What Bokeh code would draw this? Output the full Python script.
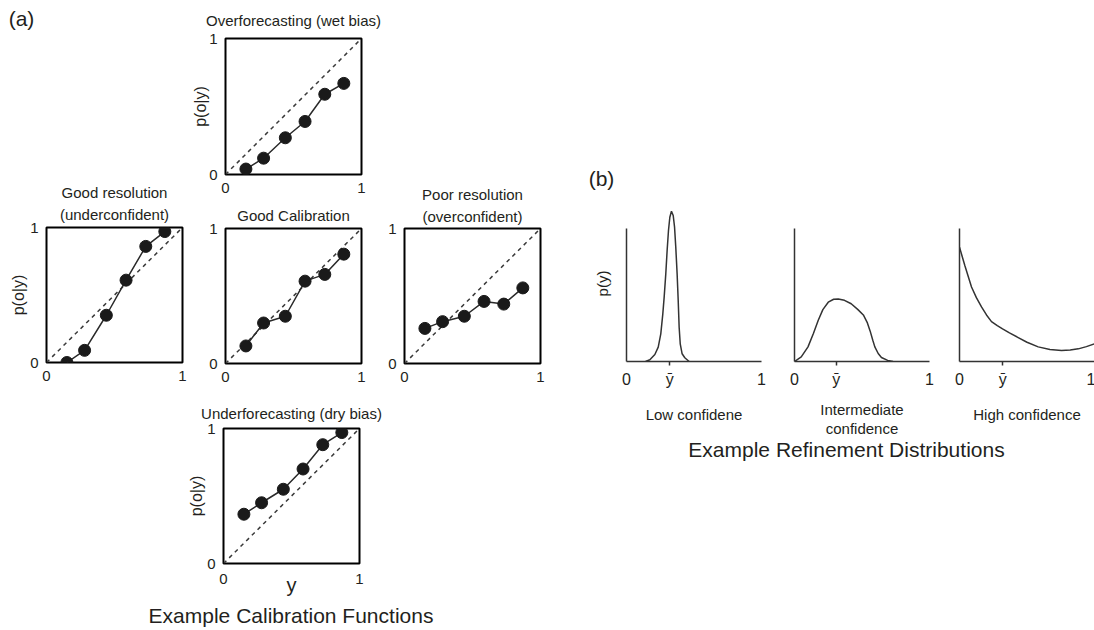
from bokeh.plotting import figure
from bokeh.layouts import row, column
from bokeh.models import Range1d, FixedTicker, Label, LinearAxis, Title
from bokeh.embed import file_html
from bokeh.resources import INLINE

FONT = "Liberation Sans"
INK = "#231f20"

# ---- (a) calibration functions: forecast bins and observed frequencies ----
y_bins = [0.15, 0.28, 0.44, 0.585, 0.73, 0.87]
over_obs = [0.04, 0.12, 0.27, 0.39, 0.59, 0.67]
goodres_obs = [0.0, 0.09, 0.35, 0.61, 0.86, 0.97]
goodcal_obs = [0.13, 0.30, 0.35, 0.61, 0.66, 0.81]
poor_obs = [0.26, 0.31, 0.35, 0.46, 0.44, 0.56]
under_obs = [0.365, 0.45, 0.55, 0.70, 0.88, 0.97]
diag = [0, 1]
unit_ticks = [0, 1]

# ---- (b) refinement distributions p(y) ----
low_y = [0.141, 0.173, 0.21, 0.235, 0.254, 0.269, 0.279, 0.291, 0.301, 0.311,
         0.321, 0.333, 0.346, 0.356, 0.365, 0.375, 0.383, 0.39, 0.398, 0.412,
         0.432, 0.464]
low_p = [0.0, 0.013, 0.053, 0.108, 0.208, 0.358, 0.484, 0.659, 0.835, 0.985,
         1.085, 1.13, 1.098, 1.01, 0.86, 0.659, 0.459, 0.258, 0.133, 0.058,
         0.028, 0.0]
low_mean = 0.32

mid_y = [0.0, 0.05, 0.10, 0.14, 0.176, 0.21, 0.25, 0.29, 0.324, 0.37, 0.42,
         0.47, 0.51, 0.54, 0.56, 0.58, 0.595, 0.62, 0.644, 0.69, 0.73]
mid_p = [0.0, 0.035, 0.11, 0.21, 0.31, 0.39, 0.446, 0.468, 0.47, 0.46, 0.434,
         0.39, 0.35, 0.29, 0.23, 0.16, 0.11, 0.06, 0.03, 0.008, 0.0]
mid_mean = 0.31

high_y = [0.0, 0.02, 0.04, 0.089, 0.125, 0.163, 0.2, 0.237, 0.28, 0.319, 0.37,
          0.435, 0.5, 0.583, 0.67, 0.756, 0.82, 0.88, 0.94, 1.0]
high_p = [0.86, 0.79, 0.72, 0.56, 0.48, 0.41, 0.35, 0.30, 0.27, 0.246, 0.215,
          0.18, 0.145, 0.11, 0.09, 0.083, 0.086, 0.095, 0.112, 0.133]
high_mean = 0.32

P_TOP = 1.173  # headroom above the p(y) axis so the narrow peak shows


def base_fig(fw, fh, xr, yr, left=0, right=0, top=0, bottom=0):
    p = figure(frame_width=fw, frame_height=fh, x_range=xr, y_range=yr,
               min_border_left=left, min_border_right=right,
               min_border_top=top, min_border_bottom=bottom,
               x_axis_type=None, y_axis_type=None, toolbar_location=None,
               output_backend="svg", title=None)
    p.frame_align = False
    p.outline_line_color = None
    p.background_fill_color = "white"
    p.border_fill_color = "white"
    return p


def text_canvas(w, h):
    # blank strip whose coordinates run in pixels from its top-left corner
    return base_fig(w, h, Range1d(0, w), Range1d(h, 0))


def put_text(p, text, x, y, size="15px"):
    p.add_layout(Label(x=x, y=y, text=text, text_align="center",
                       text_baseline="middle", text_font=FONT,
                       text_font_size=size, text_color=INK))


def add_titles(p, lines):
    # lines are listed from the frame outwards
    for text, gap in lines:
        p.add_layout(Title(text=text, align="center", standoff=gap,
                           text_font=FONT, text_font_size="15px",
                           text_font_style="normal", text_color=INK), "above")


def tick_axis(ticker, standoff, label=None, label_standoff=0, size="15px",
              label_size="16px"):
    ax = LinearAxis(ticker=ticker)
    ax.axis_line_color = None
    ax.major_tick_in = 0
    ax.major_tick_out = 0
    ax.minor_tick_in = 0
    ax.minor_tick_out = 0
    ax.major_label_standoff = standoff
    ax.major_label_text_font = FONT
    ax.major_label_text_font_size = size
    ax.major_label_text_color = INK
    if label:
        ax.axis_label = label
        ax.axis_label_standoff = label_standoff
        ax.axis_label_text_font = FONT
        ax.axis_label_text_font_size = label_size
        ax.axis_label_text_font_style = "normal"
        ax.axis_label_text_color = INK
    return ax


def calib_panel(obs, titles, borders, fh=135, ylabel_standoff=None, xstand=8):
    left, right, top, bottom = borders
    p = base_fig(136, fh, Range1d(0, 1), Range1d(0, 1), left, right, top, bottom)
    p.outline_line_color = "black"
    p.outline_line_width = 2
    xa = tick_axis(FixedTicker(ticks=unit_ticks), xstand)
    p.add_layout(xa, "below")
    ya = tick_axis(FixedTicker(ticks=unit_ticks), 8,
                   "p(o|y)" if ylabel_standoff is not None else None,
                   ylabel_standoff or 0)
    p.add_layout(ya, "left")
    p.line(diag, diag, line_color="#3a3a3a", line_width=1.5, line_dash="4 4")
    p.line(y_bins, obs, line_color="#2a2a2a", line_width=1.5)
    p.scatter(y_bins, obs, size=12, fill_color="#1a1a1a", line_color="#1a1a1a")
    add_titles(p, titles)
    return p, xa


def refine_panel(xs, ps, mean, left, right, ylabel=None):
    p = base_fig(135, 156, Range1d(0, 1), Range1d(0, P_TOP), left, right, 10, 34)
    xa = tick_axis(FixedTicker(ticks=[0, mean, 1], minor_ticks=[mean]), 5,
                   size="16px")
    xa.major_label_overrides = {0: "0", mean: "ȳ", 1: "1"}
    xa.axis_line_color = "#333333"
    xa.axis_line_width = 1.5
    xa.minor_tick_out = 4
    xa.minor_tick_line_color = "#333333"
    xa.minor_tick_line_width = 1.5
    p.add_layout(xa, "below")
    ya = tick_axis(FixedTicker(ticks=[]), 8, ylabel, label_standoff=16,
                   label_size="15px")
    ya.bounds = (0, 1)
    ya.axis_line_color = "#333333"
    ya.axis_line_width = 1.5
    p.add_layout(ya, "left")
    p.line(xs, ps, line_color="#333333", line_width=1.5)
    return p


# ---------------- (a) calibration functions ----------------
tag_a = text_canvas(186, 40)
put_text(tag_a, "(a)", 21, 18, size="21px")

fig_goodres, _ = calib_panel(goodres_obs, [("(underconfident)", 9),
                                           ("Good resolution", -3)],
                             (46, 5, 187, 33), ylabel_standoff=0)
fig_over, _ = calib_panel(over_obs, [("Overforecasting (wet bias)", 19)],
                          (38, 22, 38, 26), fh=136, ylabel_standoff=-3)
fig_goodcal, _ = calib_panel(goodcal_obs, [("Good Calibration", 9)],
                             (38, 22, 28, 32))
fig_poor, _ = calib_panel(poor_obs, [("(overconfident)", 7),
                                     ("Poor resolution", -1)],
                          (21, 21, 228, 32))
fig_under, under_x = calib_panel(under_obs,
                                 [("Underforecasting (dry bias)", 14)],
                                 (223, 201, 33, 42), ylabel_standoff=-1,
                                 xstand=10)
under_x.axis_label = "y"
under_x.axis_label_standoff = -13
under_x.axis_label_text_font = FONT
under_x.axis_label_text_font_size = "20px"
under_x.axis_label_text_font_style = "normal"
under_x.axis_label_text_color = INK

cap_a = text_canvas(560, 25)
put_text(cap_a, "Example Calibration Functions", 290.5, 10, size="21px")

part_a = column(
    row(column(tag_a, fig_goodres), column(fig_over, fig_goodcal), fig_poor),
    fig_under, cap_a)

# ---------------- (b) refinement distributions ----------------
tag_b = text_canvas(534, 195)
put_text(tag_b, "(b)", 40, 177.5, size="21px")

fig_low = refine_panel(low_y, low_p, low_mean, 65, 16, ylabel="p(y)")
fig_mid = refine_panel(mid_y, mid_p, mid_mean, 17, 13)
fig_high = refine_panel(high_y, high_p, high_mean, 17, 1)

cap_b = text_canvas(534, 235)
put_text(cap_b, "Low confidene", 132.5, 19)
put_text(cap_b, "Intermediate", 300.5, 14)
put_text(cap_b, "confidence", 300.5, 33)
put_text(cap_b, "High confidence", 465.5, 19)
put_text(cap_b, "Example Refinement Distributions", 285, 54, size="21px")

part_b = column(tag_b, row(fig_low, fig_mid, fig_high), cap_b)

page = row(part_a, part_b)

open("out.html", "w").write(file_html(page, INLINE))
